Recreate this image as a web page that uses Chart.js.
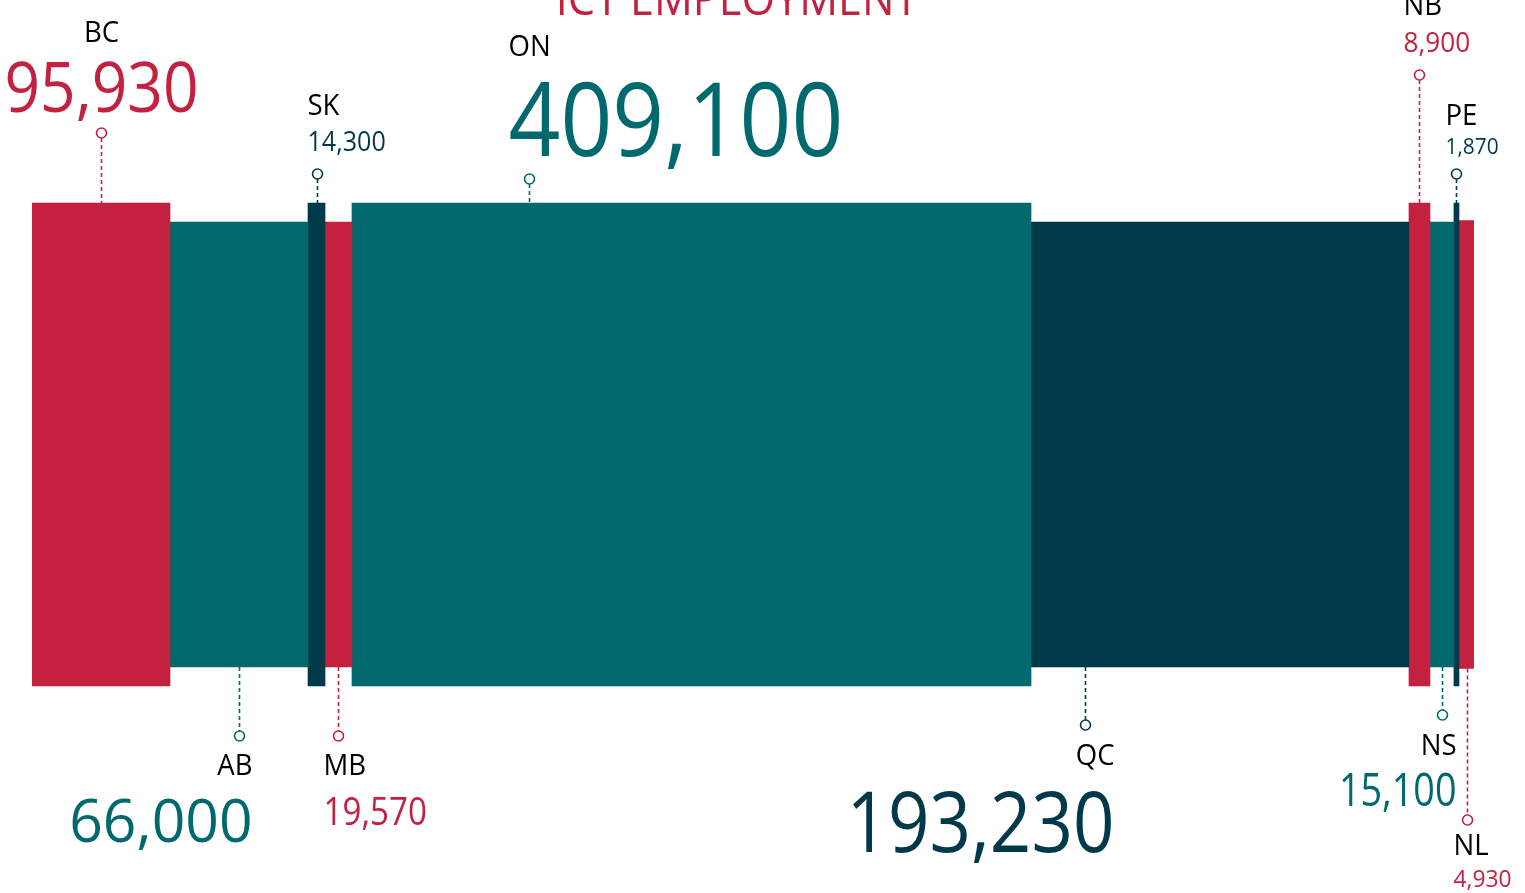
<!DOCTYPE html>
<html>
<head>
<meta charset="utf-8">
<script src="https://cdn.jsdelivr.net/npm/chart.js@4.4.1/dist/chart.umd.min.js"></script>
<style>
  html, body { margin: 0; padding: 0; background: #fff; }
  #wrap { width: 1525px; height: 893px; position: relative; }
</style>
</head>
<body>
<div id="wrap"><canvas id="ictChart"></canvas></div>
<script>
// datos
const provinces = ["BC", "AB", "SK", "MB", "ON", "QC", "NB", "NS", "PE", "NL"];
const employment = [95930, 66000, 14300, 19570, 409100, 193230, 8900, 15100, 1870, 4930];
// ancho que ocupa cada barra en la tira (% del total)
const stripShare = [9.57, 9.57, 1.18, 1.87, 47.09, 26.21, 1.46, 1.66, 0.35, 1.04];

const RED = "#c42140";
const TEAL = "#00696e";
const NAVY = "#003a4a";
const colores = [RED, TEAL, NAVY, RED, TEAL, NAVY, RED, TEAL, NAVY, RED];
const grosor = [483, 445, 483, 445, 483, 445, 483, 445, 483, 448];

// donde va cada etiqueta: lado, punto de anclaje dentro de la barra, circulo, textos
const etiquetas = [
  { side: "top", frac: 0.5, cy: 133, align: "center", dx: 0, nameY: 42, valY: 112, size: 70, sx: 0.89 },
  { side: "bottom", frac: 0.5, cy: 736, align: "right", dx: 13, nameY: 775, valY: 842, size: 60, sx: 0.98 },
  { side: "top", frac: 0.5, cy: 174, align: "left", dx: -10, nameY: 115, valY: 151, size: 27, sx: 0.93 },
  { side: "bottom", frac: 0.5, cy: 736, align: "left", dx: -15, nameY: 775, valY: 825, size: 39, sx: 0.85 },
  { side: "top", frac: 0.26, cy: 179, align: "left", dx: -21, nameY: 56, valY: 156, size: 102, sx: 0.89 },
  { side: "bottom", frac: 0.143, cy: 725, align: "right", dx: 29, nameY: 765, valY: 852, size: 84, sx: 0.865 },
  { side: "top", frac: 0.5, cy: 75, align: "left", dx: -16, nameY: 15, valY: 52, size: 27, sx: 0.97 },
  { side: "bottom", frac: 0.5, cy: 715, align: "right", dx: 14, nameY: 755, valY: 806, size: 46, sx: 0.82 },
  { side: "top", frac: 0.5, cy: 174, align: "left", dx: -11, nameY: 125, valY: 154, size: 22, sx: 0.95 },
  { side: "bottom", frac: 0.5, cy: 820, align: "left", dx: -14, nameY: 855, valY: 887, size: 24, sx: 0.95 }
];

let inicio = 0;
const datasets = provinces.map((p, i) => {
  const d = {
    label: p,
    data: [[inicio, inicio + stripShare[i]]],
    backgroundColor: colores[i],
    borderWidth: 0,
    borderSkipped: false,
    barThickness: grosor[i],
    grouped: false
  };
  inicio += stripShare[i];
  return d;
});

function texto(ctx, t, x, y, font, color, align, sx) {
  ctx.save();
  ctx.translate(x, y);
  ctx.scale(sx, 1);
  ctx.font = font;
  ctx.fillStyle = color;
  ctx.textAlign = align;
  ctx.textBaseline = "alphabetic";
  ctx.fillText(t, 0, 0);
  ctx.restore();
}

const etiquetasPlugin = {
  id: "etiquetas",
  afterDatasetsDraw(chart) {
    const ctx = chart.ctx;
    // titulo cortado arriba
    texto(ctx, "ICT EMPLOYMENT", 737, 15, "48px 'Open Sans'", RED, "center", 0.9);

    provinces.forEach((p, i) => {
      const el = chart.getDatasetMeta(i).data[0];
      const props = el.getProps(["x", "y", "base", "height"], true);
      const top = props.y - props.height / 2;
      const bottom = props.y + props.height / 2;
      const L = etiquetas[i];
      const ax = Math.round(props.base + L.frac * (props.x - props.base)) + 0.5;
      const r = 5;

      ctx.save();
      ctx.strokeStyle = colores[i];
      ctx.lineWidth = 1.6;
      ctx.setLineDash([4, 3]);
      ctx.beginPath();
      if (L.side == "top") {
        ctx.moveTo(ax, L.cy + r);
        ctx.lineTo(ax, top);
      } else {
        ctx.moveTo(ax, bottom);
        ctx.lineTo(ax, L.cy - r);
      }
      ctx.stroke();
      ctx.setLineDash([]);
      ctx.fillStyle = "#fff";
      ctx.beginPath();
      ctx.arc(ax, L.cy, r, 0, Math.PI * 2);
      ctx.fill();
      ctx.stroke();
      ctx.restore();

      const tx = ax + L.dx;
      texto(ctx, p, tx, L.nameY, "29px 'Open Sans'", "#000", L.align, 0.95);
      texto(ctx, employment[i].toLocaleString("en-US"), tx, L.valY, L.size + "px 'Open Sans'", colores[i], L.align, L.sx);
    });
  }
};

const ctx = document.getElementById("ictChart").getContext("2d");
const chart = new Chart(ctx, {
  type: "bar",
  data: { labels: ["ICT"], datasets: datasets },
  options: {
    indexAxis: "y",
    responsive: true,
    maintainAspectRatio: false,
    animation: false,
    layout: { padding: { left: 32, right: 51, top: 0, bottom: 4 } },
    scales: {
      x: { type: "linear", min: 0, max: 100, display: false },
      y: { display: false }
    },
    plugins: {
      legend: { display: false },
      tooltip: { enabled: false },
      title: { display: false }
    }
  },
  plugins: [etiquetasPlugin]
});
</script>
</body>
</html>
